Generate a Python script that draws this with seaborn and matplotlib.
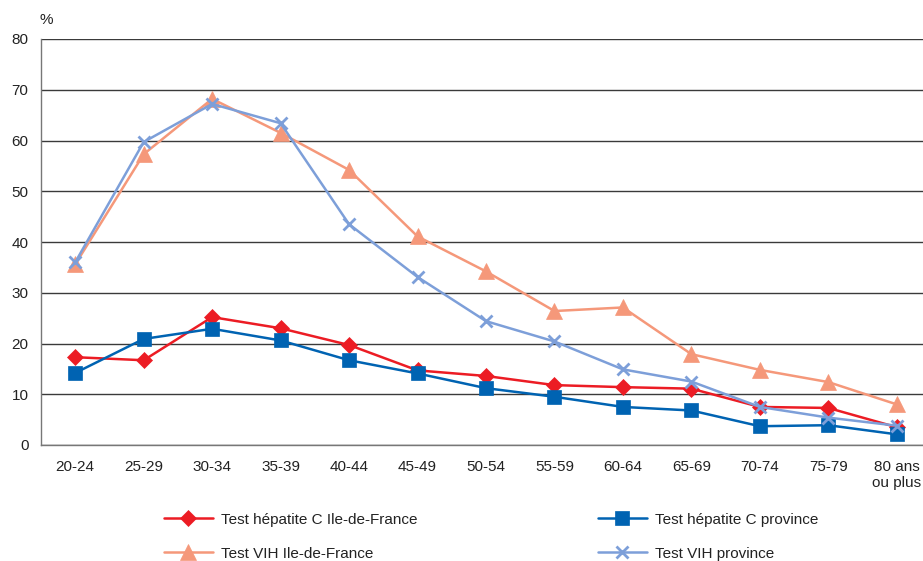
import matplotlib
matplotlib.use("Agg")
import matplotlib.pyplot as plt
import seaborn as sns
import pandas as pd
import numpy as np

categories = ["20-24", "25-29", "30-34", "35-39", "40-44", "45-49", "50-54",
              "55-59", "60-64", "65-69", "70-74", "75-79", "80 ans\nou plus"]
hepc_idf = [17.3, 16.7, 25.2, 23.0, 19.7, 14.7, 13.6, 11.8, 11.4, 11.1, 7.5, 7.3, 3.5]
hepc_prov = [14.2, 20.9, 22.9, 20.6, 16.7, 14.1, 11.2, 9.5, 7.5, 6.8, 3.7, 3.9, 2.1]
vih_idf = [35.6, 57.3, 68.2, 61.5, 54.2, 41.1, 34.2, 26.4, 27.1, 17.9, 14.8, 12.4, 8.0]
vih_prov = [36.0, 59.7, 67.2, 63.4, 43.5, 33.1, 24.4, 20.4, 14.9, 12.5, 7.5, 5.4, 3.8]

series_names = ["Test hépatite C Ile-de-France", "Test hépatite C province",
                "Test VIH Ile-de-France", "Test VIH province"]
series_values = [hepc_idf, hepc_prov, vih_idf, vih_prov]
colors = ["#EC1C24", "#0063B2", "#F5987A", "#7D9FD9"]
marker_list = ["D", "s", "^", "x"]
marker_sizes = [8, 10, 11, 9]

rows = []
for name, vals in zip(series_names, series_values):
    for i, v in enumerate(vals):
        rows.append({"pos": i, "val": v, "series": name})
df = pd.DataFrame(rows)

sns.set_theme(style="white")
plt.rcParams["font.family"] = ["Liberation Sans", "DejaVu Sans"]

FS = 11

fig = plt.figure(figsize=(9.23, 5.61), dpi=100)
ax = fig.add_axes([41/923, 1-445/561, 890/923, (445-39)/561])

for name, col, mk, ms in zip(series_names, colors, marker_list, marker_sizes):
    sub = df[df["series"] == name]
    sns.lineplot(data=sub, x="pos", y="val", ax=ax, color=col, marker=mk,
                 markersize=ms, markeredgecolor=col,
                 markeredgewidth=(2 if mk == "x" else 0.5),
                 linewidth=1.8, label=name, legend=False)

ax.set_xlim(-0.5, 12.5)
ax.set_ylim(0, 80)
ax.set_yticks(np.arange(0, 81, 10))
ax.yaxis.grid(True, color="#3a3a3a", linewidth=1)
ax.xaxis.grid(False)
ax.set_axisbelow(True)
for s in ["top", "right"]:
    ax.spines[s].set_visible(False)
ax.spines["left"].set_color("#777777")
ax.spines["bottom"].set_color("#777777")
ax.spines["left"].set_linewidth(1)
ax.spines["bottom"].set_linewidth(1)

ax.set_xticks(range(len(categories)))
ax.set_xticklabels(categories, fontsize=FS, color="#222222", linespacing=1.2)
ax.set_xticks(np.arange(-0.5, 13, 1), minor=True)
ax.tick_params(axis="x", which="major", length=0, pad=11)
ax.tick_params(axis="x", which="minor", length=5, width=1, color="#555555", direction="out")
ax.tick_params(axis="y", which="major", length=5, width=1, color="#555555",
               direction="out", labelsize=FS, labelcolor="#222222", pad=4)
ax.set_xlabel("")
ax.set_ylabel("")

fig.text(40/923, 1-20/561, "%", fontsize=FS, color="#222222", va="center", ha="left")

handles, labels = ax.get_legend_handles_labels()
order = [0, 2, 1, 3]
leg = fig.legend([handles[i] for i in order], [labels[i] for i in order],
                 loc="upper left", bbox_to_anchor=(150/923, 1-499/561), ncol=2,
                 frameon=False, fontsize=FS, handlelength=3.2, columnspacing=11.8,
                 labelspacing=1.3, handletextpad=0.55)
for t in leg.get_texts():
    t.set_color("#222222")

fig.savefig("out.png", dpi=100)
